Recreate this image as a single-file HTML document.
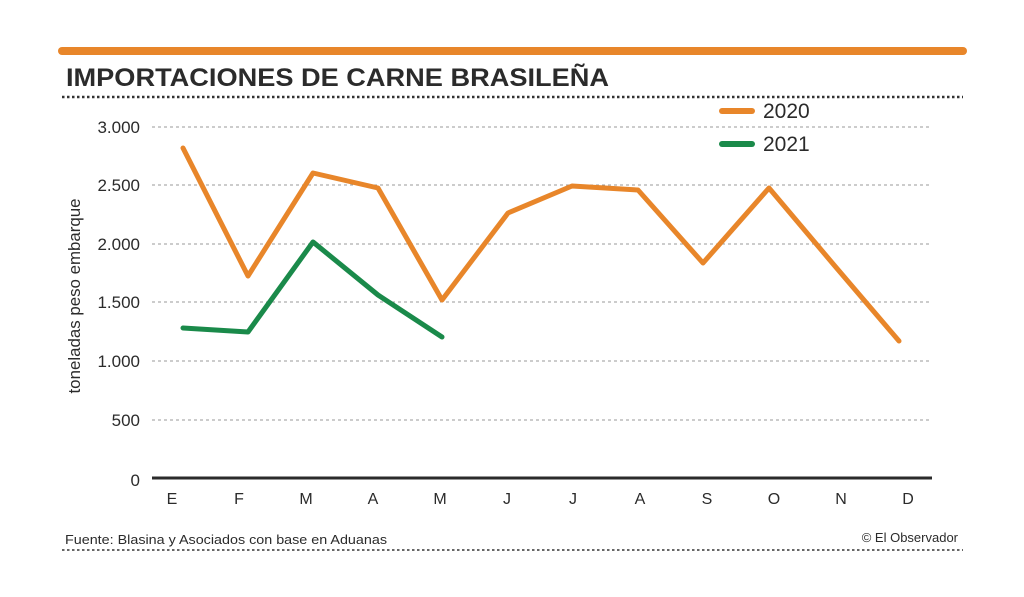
<!DOCTYPE html>
<html><head><meta charset="utf-8"><style>
html,body{margin:0;padding:0;background:#fff;}
svg{display:block;font-family:"Liberation Sans",sans-serif;}
</style></head><body>
<svg width="1024" height="597" viewBox="0 0 1024 597">
<rect width="1024" height="597" fill="#fff"/>
<line x1="62" y1="51" x2="963" y2="51" stroke="#e8862a" stroke-width="8" stroke-linecap="round"/>
<text x="66" y="86" font-size="25" font-weight="bold" fill="#2b2b2b" textLength="543" lengthAdjust="spacingAndGlyphs">IMPORTACIONES DE CARNE BRASILEÑA</text>
<line x1="62" y1="97" x2="963" y2="97" stroke="#333" stroke-width="2.5" stroke-dasharray="2.5,2.5"/>
<g stroke="#999" stroke-width="1" stroke-dasharray="3,3">
<line x1="152" y1="127" x2="932" y2="127"/>
<line x1="152" y1="185" x2="932" y2="185"/>
<line x1="152" y1="244" x2="932" y2="244"/>
<line x1="152" y1="302" x2="932" y2="302"/>
<line x1="152" y1="361" x2="932" y2="361"/>
<line x1="152" y1="420" x2="932" y2="420"/>
</g>
<line x1="152" y1="478" x2="932" y2="478" stroke="#2b2b2b" stroke-width="3"/>
<g font-size="17" fill="#2b2b2b" text-anchor="end">
<text x="140" y="133">3.000</text>
<text x="140" y="191">2.500</text>
<text x="140" y="250">2.000</text>
<text x="140" y="308">1.500</text>
<text x="140" y="367">1.000</text>
<text x="140" y="426">500</text>
<text x="140" y="486">0</text>
</g>
<text transform="translate(80,296) rotate(-90)" font-size="17" fill="#2b2b2b" text-anchor="middle" textLength="195" lengthAdjust="spacingAndGlyphs">toneladas peso embarque</text>
<g font-size="16" fill="#2b2b2b" text-anchor="middle">
<text x="172" y="504">E</text><text x="239" y="504">F</text><text x="306" y="504">M</text><text x="373" y="504">A</text><text x="440" y="504">M</text><text x="507" y="504">J</text><text x="573" y="504">J</text><text x="640" y="504">A</text><text x="707" y="504">S</text><text x="774" y="504">O</text><text x="841" y="504">N</text><text x="908" y="504">D</text>
</g>
<polyline fill="none" stroke="#e8862a" stroke-width="5" stroke-linejoin="round" stroke-linecap="round" points="183,148 248,276 313,173 378,188 442,300 508,213 572,186 638,190 703,263 769,188 834,265 899,341"/>
<polyline fill="none" stroke="#1a8a4a" stroke-width="5" stroke-linejoin="round" stroke-linecap="round" points="183,328 248,332 313,242 378,295 442,337"/>
<line x1="722" y1="111" x2="752" y2="111" stroke="#e8862a" stroke-width="6" stroke-linecap="round"/>
<text x="763" y="118" font-size="21" fill="#2b2b2b">2020</text>
<line x1="722" y1="144" x2="752" y2="144" stroke="#1a8a4a" stroke-width="6" stroke-linecap="round"/>
<text x="763" y="151" font-size="21" fill="#2b2b2b">2021</text>
<text x="65" y="544" font-size="13" fill="#2b2b2b" textLength="322" lengthAdjust="spacingAndGlyphs">Fuente: Blasina y Asociados con base en Aduanas</text>
<text x="958" y="542" font-size="13" fill="#2b2b2b" text-anchor="end">© El Observador</text>
<line x1="62" y1="550" x2="963" y2="550" stroke="#333" stroke-width="1.5" stroke-dasharray="2.5,2.5"/>
</svg>
</body></html>
